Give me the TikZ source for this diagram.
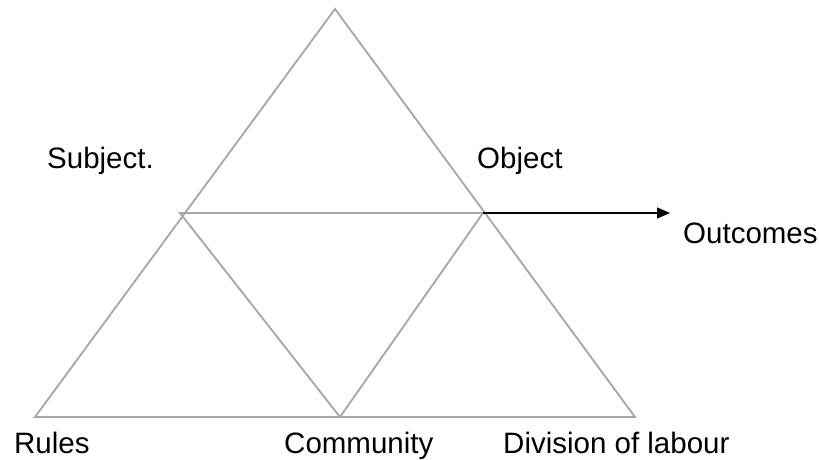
\documentclass[tikz,border=0pt]{standalone}
\usepackage{fontspec}
\setmainfont{Liberation Sans}
\usetikzlibrary{arrows.meta}
\begin{document}
\begin{tikzpicture}[x=1pt,y=1pt,
  edge/.style={draw=black!35,line width=1.8pt,line join=miter},
  outarrow/.style={draw=black,line width=1.3pt,-{Triangle[length=13pt,width=11pt]}},
  lbl/.style={anchor=base west,inner sep=0pt,font=\fontsize{29.5}{35}\selectfont}]
\useasboundingbox (0,0) rectangle (819,459);
\coordinate (A) at (335,450);
\coordinate (BL) at (35,42);
\coordinate (BR) at (635,42);
\coordinate (ML) at (180,246);
\coordinate (MR) at (483,246);
\coordinate (BM) at (340,42);
\coordinate (E) at (670,246);
\draw[edge] (A) -- (BL) -- (BR) -- cycle;
\draw[edge] (ML) -- (MR) -- (BM) -- cycle;
\draw[outarrow] (MR) -- (E);
\node[lbl] (subj) at (47,291) {Subject.};
\node[lbl] (obj) at (477,291) {Object};
\node[lbl] (out) at (683,216) {Outcomes};
\node[lbl] (rules) at (14,6) {Rules};
\node[lbl] (comm) at (284,6) {Community};
\node[lbl] (div) at (503,6) {Division of labour};
\end{tikzpicture}
\end{document}
